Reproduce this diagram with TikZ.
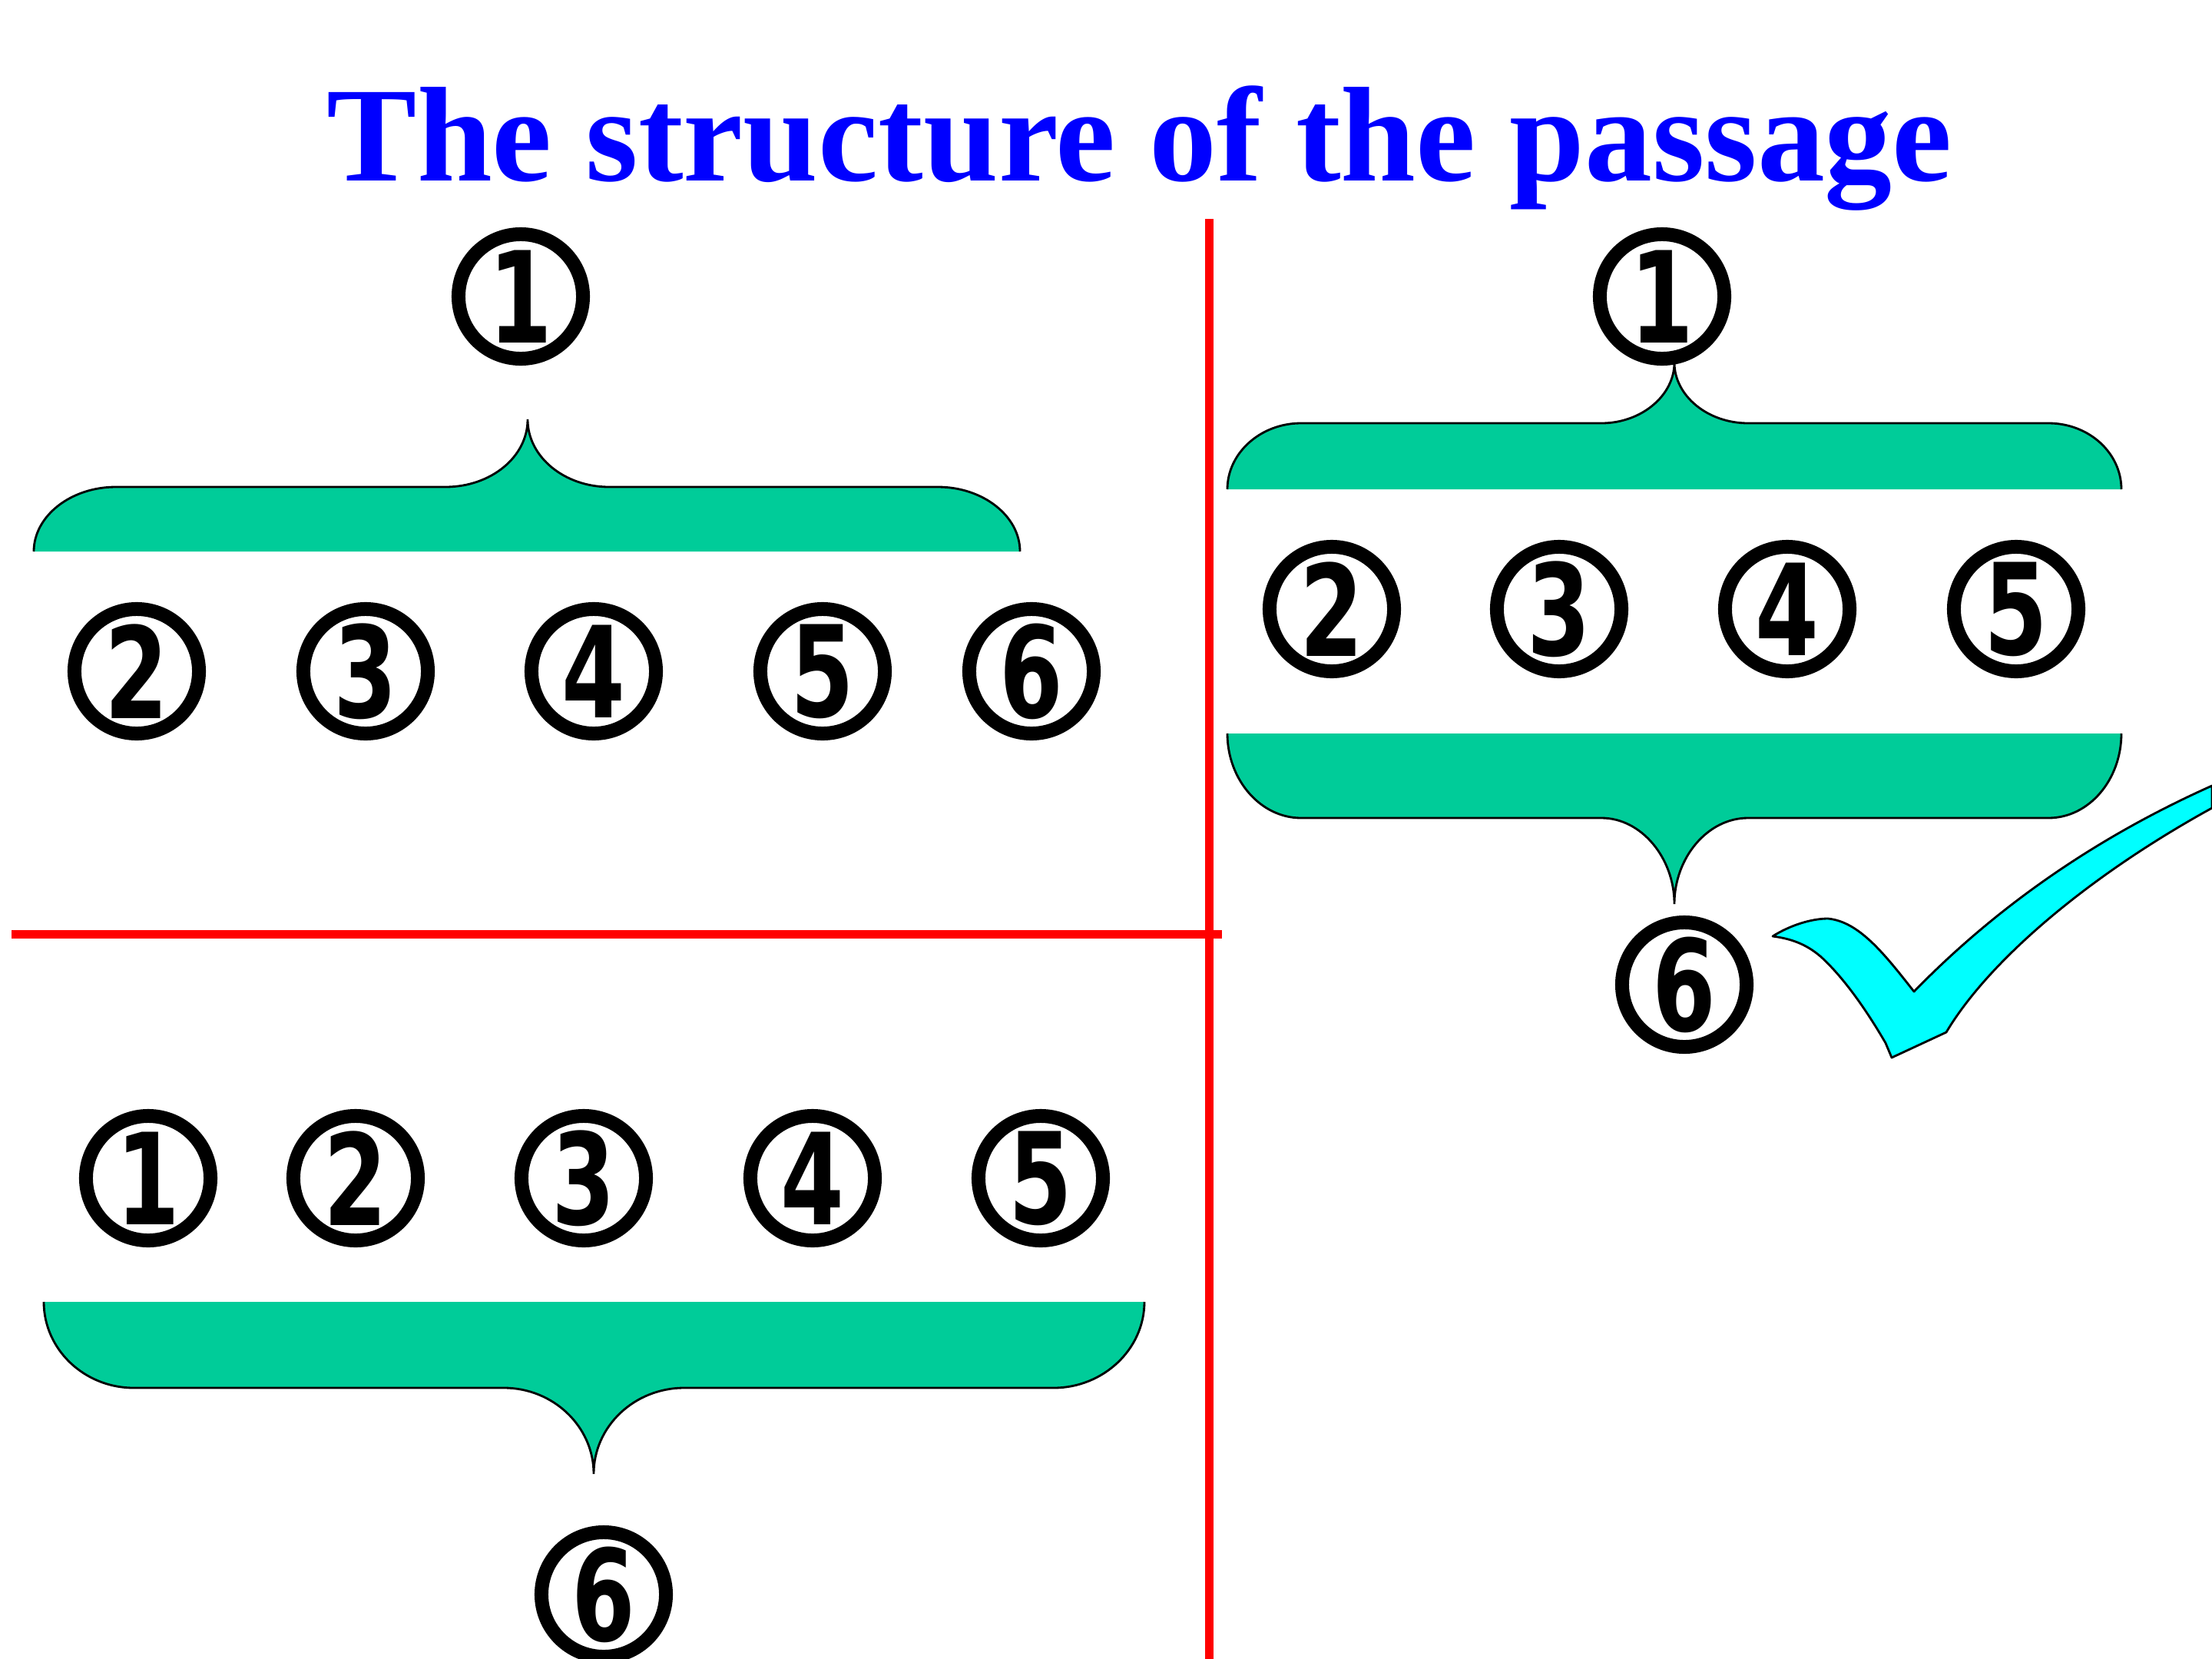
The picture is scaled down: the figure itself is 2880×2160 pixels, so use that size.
\documentclass[tikz,border=0pt]{standalone}
\usepackage{fontspec}
\setmainfont{Liberation Serif}
\newfontfamily\digitfont[FakeStretch=0.72]{DejaVu Sans}
\definecolor{bracegreen}{RGB}{0,204,153}
\definecolor{titleblue}{RGB}{0,0,255}
\definecolor{checkcyan}{RGB}{0,255,255}
\begin{document}
\begin{tikzpicture}[x=0.01cm,y=-0.01cm,
  cnum/.style={circle, draw=black, line width=0.18cm, minimum size=1.62cm, inner sep=0pt,
    font=\digitfont\bfseries\fontsize{47pt}{47pt}\selectfont},
  braceline/.style={draw=black, line width=0.8pt},
  redline/.style={draw=red, line width=0.11cm},
  checkshape/.style={fill=checkcyan, draw=black, line width=0.8pt, line join=round}]
\useasboundingbox (0,0) rectangle (2880,2160);

% title
\node[anchor=base, inner sep=0pt, text=titleblue, font=\bfseries\fontsize{50pt}{50pt}\selectfont] (title) at (1484,235) {The structure of the passage};

% red dividing lines
\draw[redline] (1574,285) -- (1574,2160);
\draw[redline] (15,1216) -- (1591,1216);

% top-left brace
\fill[bracegreen] (44,718) .. controls (44,672) and (92,634) .. (151,634) -- (580,634) .. controls (639,634) and (687,595) .. (687,546) .. controls (687,595) and (735,634) .. (793,634) -- (1221,634) .. controls (1280,634) and (1328,672) .. (1328,718) -- cycle;
\draw[braceline] (44,718) .. controls (44,672) and (92,634) .. (151,634) -- (580,634) .. controls (639,634) and (687,595) .. (687,546) .. controls (687,595) and (735,634) .. (793,634) -- (1221,634) .. controls (1280,634) and (1328,672) .. (1328,718);

% top-right brace
\fill[bracegreen] (1598,637) .. controls (1598,590) and (1641,551) .. (1694,551) -- (2085,551) .. controls (2137,551) and (2180,515) .. (2180,472) .. controls (2180,515) and (2223,551) .. (2276,551) -- (2667,551) .. controls (2720,551) and (2762,590) .. (2762,637) -- cycle;
\draw[braceline] (1598,637) .. controls (1598,590) and (1641,551) .. (1694,551) -- (2085,551) .. controls (2137,551) and (2180,515) .. (2180,472) .. controls (2180,515) and (2223,551) .. (2276,551) -- (2667,551) .. controls (2720,551) and (2762,590) .. (2762,637);

% right bottom brace
\fill[bracegreen] (1598,955) .. controls (1598,1015) and (1641,1065) .. (1694,1065) -- (2085,1065) .. controls (2137,1065) and (2180,1117) .. (2180,1177) .. controls (2180,1117) and (2223,1065) .. (2276,1065) -- (2667,1065) .. controls (2720,1065) and (2762,1015) .. (2762,955) -- cycle;
\draw[braceline] (1598,955) .. controls (1598,1015) and (1641,1065) .. (1694,1065) -- (2085,1065) .. controls (2137,1065) and (2180,1117) .. (2180,1177) .. controls (2180,1117) and (2223,1065) .. (2276,1065) -- (2667,1065) .. controls (2720,1065) and (2762,1015) .. (2762,955);

% bottom-left brace
\fill[bracegreen] (57,1695) .. controls (57,1757) and (110,1807) .. (174,1807) -- (656,1807) .. controls (720,1807) and (773,1857) .. (773,1919) .. controls (773,1857) and (826,1807) .. (891,1807) -- (1372,1807) .. controls (1436,1807) and (1490,1757) .. (1490,1695) -- cycle;
\draw[braceline] (57,1695) .. controls (57,1757) and (110,1807) .. (174,1807) -- (656,1807) .. controls (720,1807) and (773,1857) .. (773,1919) .. controls (773,1857) and (826,1807) .. (891,1807) -- (1372,1807) .. controls (1436,1807) and (1490,1757) .. (1490,1695);

% check mark
\draw[checkshape] (2308,1219) .. controls (2330,1205) and (2358,1196) .. (2380,1196)
  .. controls (2420,1200) and (2452,1240) .. (2492,1291)
  .. controls (2600,1180) and (2730,1090) .. (2880,1023) -- (2880,1052)
  .. controls (2720,1140) and (2590,1250) .. (2534,1344) -- (2463,1377) -- (2455,1358)
  .. controls (2430,1315) and (2400,1272) .. (2370,1245)
  .. controls (2350,1228) and (2330,1222) .. (2308,1219) -- cycle;

% top-left group
\node[cnum] (tl1) at (678,386) {1};
\node[cnum] (tl2) at (178,874) {2};
\node[cnum] (tl3) at (476,874) {3};
\node[cnum] (tl4) at (773,874) {4};
\node[cnum] (tl5) at (1071,874) {5};
\node[cnum] (tl6) at (1343,874) {6};

% top-right group
\node[cnum] (tr1) at (2164,386) {1};
\node[cnum] (tr2) at (1734,793) {2};
\node[cnum] (tr3) at (2030,793) {3};
\node[cnum] (tr4) at (2327,793) {4};
\node[cnum] (tr5) at (2625,793) {5};
\node[cnum] (tr6) at (2193,1282) {6};

% bottom-left group
\node[cnum] (bl1) at (193,1534) {1};
\node[cnum] (bl2) at (463,1534) {2};
\node[cnum] (bl3) at (760,1534) {3};
\node[cnum] (bl4) at (1058,1534) {4};
\node[cnum] (bl5) at (1355,1534) {5};
\node[cnum] (bl6) at (786,2076) {6};
\end{tikzpicture}
\end{document}
